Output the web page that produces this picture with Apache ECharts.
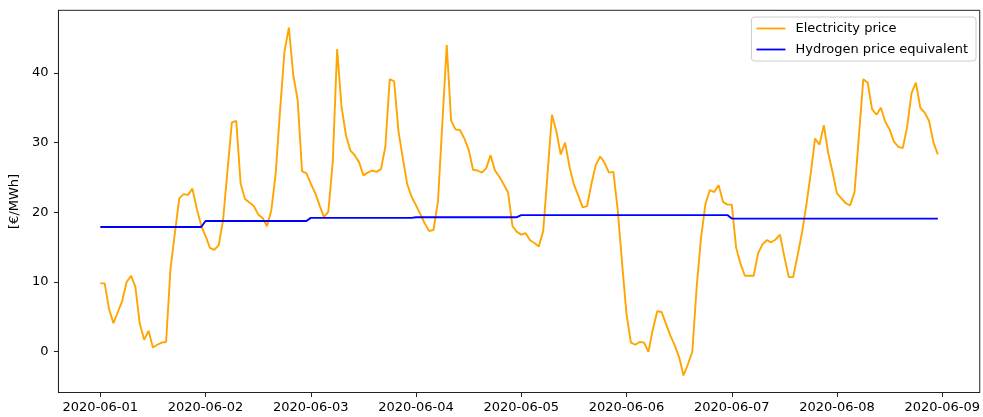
<!DOCTYPE html>
<html>
<head>
<meta charset="utf-8">
<script src="https://cdn.jsdelivr.net/npm/echarts@6/dist/echarts.min.js"></script>
<style>
  html, body { margin: 0; padding: 0; background: #fff; }
  #chart { width: 983px; height: 417px; }
</style>
</head>
<body>
<div id="chart"></div>
<script>
  // tick labels, one per day (x = hours since 2020-06-01 00:00)
  const dayLabels = ['2020-06-01', '2020-06-02', '2020-06-03', '2020-06-04', '2020-06-05',
                     '2020-06-06', '2020-06-07', '2020-06-08', '2020-06-09'];
  const yTicks = [0, 10, 20, 30, 40];

  // hourly electricity price [€/MWh], one array per day
  const priceJun01 = [9.8, 9.8, 6.1, 4.1, 5.7, 7.3, 10.0, 10.9, 9.3, 4.0, 1.7, 3.0,
                      0.6, 1.0, 1.3, 1.4, 11.9, 17.0, 22.0, 22.6, 22.5, 23.4, 20.5, 18.1];
  const priceJun02 = [16.6, 14.9, 14.6, 15.3, 18.9, 26.0, 32.9, 33.1, 24.1, 21.9, 21.4, 20.9,
                      19.7, 19.2, 18.0, 20.3, 25.6, 34.7, 43.1, 46.5, 39.7, 36.1, 25.9, 25.6];
  const priceJun03 = [24.1, 22.8, 21.0, 19.3, 20.1, 27.2, 43.4, 35.2, 31.1, 28.9, 28.2, 27.2,
                      25.3, 25.7, 26.0, 25.8, 26.2, 29.4, 39.1, 38.8, 31.6, 27.7, 24.0, 22.2];
  const priceJun04 = [21.0, 19.7, 18.4, 17.3, 17.5, 21.6, 32.8, 44.0, 33.2, 31.9, 31.8, 30.6,
                      29.0, 26.1, 26.0, 25.7, 26.3, 28.2, 26.0, 25.1, 24.0, 22.8, 18.0, 17.2];
  const priceJun05 = [16.8, 17.0, 16.0, 15.6, 15.1, 17.3, 25.6, 34.0, 31.6, 28.3, 30.0, 26.5,
                      24.0, 22.4, 20.7, 20.9, 24.1, 26.8, 28.0, 27.1, 25.7, 25.8, 20.3, 12.6];
  const priceJun06 = [5.4, 1.3, 1.0, 1.4, 1.3, 0.0, 3.2, 5.8, 5.7, 4.0, 2.3, 0.9,
                      -0.8, -3.4, -1.8, 0.0, 9.3, 16.4, 21.2, 23.2, 22.9, 23.9, 21.5, 21.1];
  const priceJun07 = [21.1, 14.9, 12.6, 10.9, 10.9, 10.9, 14.1, 15.4, 16.0, 15.7, 16.1, 16.8,
                      13.6, 10.7, 10.7, 13.8, 17.0, 21.0, 25.5, 30.6, 29.7, 32.5, 28.5, 25.7];
  const priceJun08 = [22.7, 22.0, 21.3, 21.0, 22.9, 31.0, 39.1, 38.6, 34.8, 34.0, 35.0, 33.0,
                      31.9, 30.1, 29.4, 29.2, 32.3, 37.1, 38.6, 35.0, 34.3, 33.1, 30.0, 28.3];

  // hydrogen price equivalent, constant within each day
  const hydrogenDaily = [17.9, 18.75, 19.2, 19.3, 19.6, 19.6, 19.1, 19.1];

  const electricity = [].concat(priceJun01, priceJun02, priceJun03, priceJun04,
                                priceJun05, priceJun06, priceJun07, priceJun08)
                        .map((v, h) => [h, v]);
  const hydrogen = [];
  hydrogenDaily.forEach((v, d) => {
    hydrogen.push([d * 24, v]);
    hydrogen.push([d * 24 + 23, v]);
  });
  const dayTicks = dayLabels.map((_, i) => i * 24);

  const font = 'DejaVu Sans';
  // plain line sample for the legend (the M points only fix the 29x15 box)
  const lineIcon = 'path://M0,0 M0,6.6 L29,6.6 L29,8.4 L0,8.4 Z M29,15';

  const chart = echarts.init(document.getElementById('chart'));
  chart.setOption({
    animation: false,
    textStyle: { fontFamily: font },
    grid: {
      left: 58, right: 1.5, top: 10.3, bottom: 24.5,
      show: true, borderColor: '#222', borderWidth: 1, backgroundColor: 'transparent'
    },
    legend: {
      orient: 'vertical',
      right: 7, top: 17,
      padding: [4, 8, 4, 5],
      itemGap: 6,
      itemWidth: 29, itemHeight: 15,
      icon: lineIcon,
      borderColor: '#cccccc', borderWidth: 1, borderRadius: 3,
      backgroundColor: 'rgba(255,255,255,0.8)',
      textStyle: { fontFamily: font, fontSize: 13, color: '#000', padding: [0, 0, 0, 5] },
      data: ['Electricity price', 'Hydrogen price equivalent']
    },
    xAxis: {
      type: 'value',
      min: -9.55, max: 200.55,
      axisLine: { show: true, onZero: false, lineStyle: { color: '#222', width: 1 } },
      axisTick: { show: true, length: 4.5, customValues: dayTicks, lineStyle: { color: '#222' } },
      axisLabel: {
        customValues: dayTicks,
        margin: 9,
        fontFamily: font, fontSize: 13, color: '#000',
        formatter: v => dayLabels[Math.round(v / 24)]
      },
      splitLine: { show: false }
    },
    yAxis: {
      type: 'value',
      min: -5.85, max: 48.98,
      name: '[€/MWh]',
      nameLocation: 'middle',
      nameGap: 28,
      nameTextStyle: { fontFamily: font, fontSize: 13, color: '#000' },
      axisLine: { show: true, onZero: false, lineStyle: { color: '#222', width: 1 } },
      axisTick: { show: true, length: 4.5, customValues: yTicks, lineStyle: { color: '#222' } },
      axisLabel: {
        customValues: yTicks,
        margin: 10,
        fontFamily: font, fontSize: 13, color: '#000'
      },
      splitLine: { show: false }
    },
    series: [
      {
        name: 'Electricity price',
        type: 'line',
        symbol: 'none',
        color: '#FFA500',
        lineStyle: { color: '#FFA500', width: 1.9 },
        data: electricity
      },
      {
        name: 'Hydrogen price equivalent',
        type: 'line',
        symbol: 'none',
        color: '#0000FF',
        lineStyle: { color: '#0000FF', width: 1.9 },
        data: hydrogen
      }
    ]
  });
</script>
</body>
</html>
